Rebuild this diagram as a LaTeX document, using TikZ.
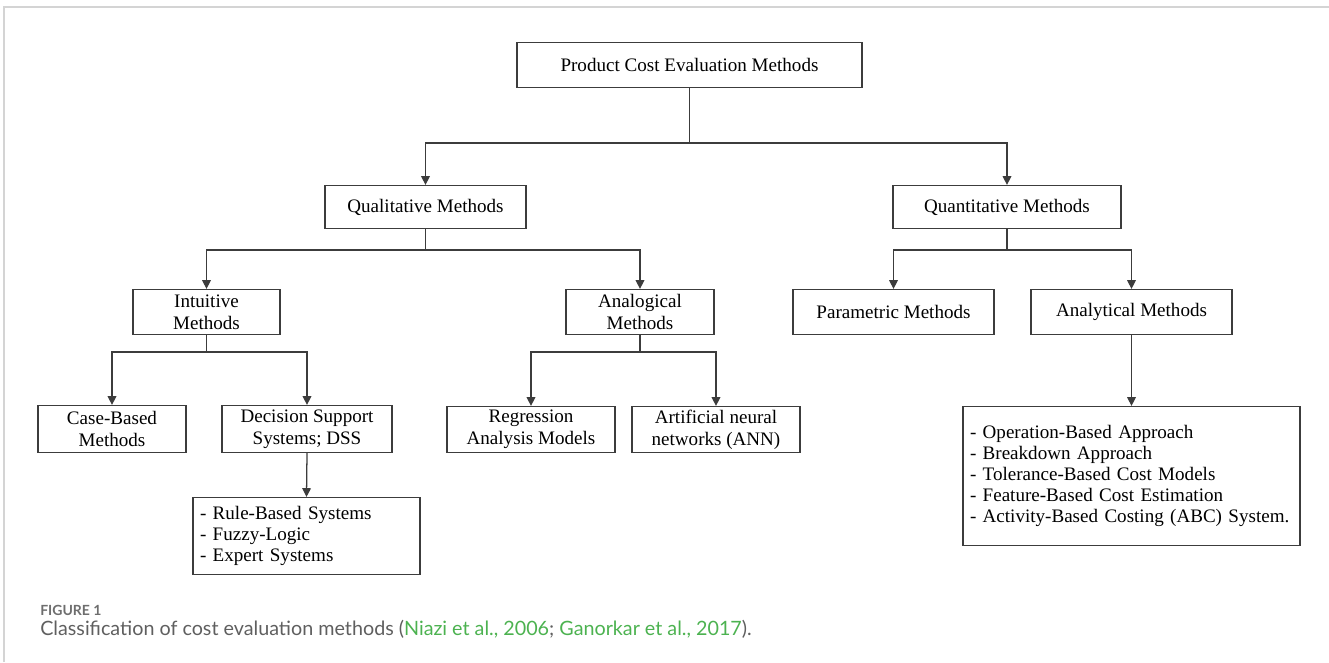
\documentclass[tikz,border=0pt]{standalone}
\usepackage{fontspec}
\setmainfont{Liberation Serif}
\newfontfamily\capfont{Lato}
\usetikzlibrary{arrows.meta}
\definecolor{capgray}{RGB}{95,95,95}
\definecolor{figgray}{RGB}{110,110,110}
\definecolor{linkgreen}{RGB}{76,178,80}
\definecolor{framegray}{RGB}{212,212,212}
\definecolor{boxline}{RGB}{60,60,60}
\newcommand{\pxl}[1]{#1*0.75pt}
\begin{document}
\begin{tikzpicture}[x=0.75pt,y=-0.75pt,
  box/.style={draw=boxline, line width=0.95pt, align=center, inner sep=0pt,
    font=\fontsize{14.3}{16.5}\selectfont},
  listbox/.style={draw=boxline, line width=0.95pt, align=left, inner xsep=\pxl{7}, inner ysep=0pt,
    font=\fontsize{14.3}{15.75}\selectfont},
  conn/.style={draw=boxline, line width=0.95pt},
  arr/.style={conn, -{Triangle[length=6.5pt,width=6.5pt]}},
  frame/.style={draw=framegray, line width=1.2pt}
]
\useasboundingbox (0,0) rectangle (1329,662);
% page frame
\coordinate (ftl) at (4,7);
\coordinate (ftr) at (1329,7);
\coordinate (fbl) at (4,662);
\draw[frame] (fbl) -- (ftl) -- (ftr);

% nodes
\node[box, minimum width=\pxl{345}, minimum height=\pxl{45}] (prod) at (689.5,65) {Product Cost Evaluation Methods};
\node[box, minimum width=\pxl{201}, minimum height=\pxl{43}] (qual) at (425.5,207) {Qualitative Methods};
\node[box, minimum width=\pxl{228}, minimum height=\pxl{43}] (quant) at (1007,207) {Quantitative Methods};
\node[box, minimum width=\pxl{147}, minimum height=\pxl{45}] (intu) at (206.5,312) {Intuitive\\Methods};
\node[box, minimum width=\pxl{148}, minimum height=\pxl{45}] (analog) at (640,312) {Analogical\\Methods};
\node[box, minimum width=\pxl{201}, minimum height=\pxl{45}] (param) at (893.5,312) {Parametric Methods};
\node[box, minimum width=\pxl{201}, minimum height=\pxl{45}] (analyt) at (1131.5,312) {Analytical Methods};
\node[box, minimum width=\pxl{148}, minimum height=\pxl{47}] (case) at (112,429) {Case-Based\\Methods};
\node[box, minimum width=\pxl{170}, minimum height=\pxl{47}] (dss) at (307,429) {Decision Support\\Systems; DSS};
\node[box, minimum width=\pxl{168}, minimum height=\pxl{46}] (regr) at (531,429.5) {Regression\\Analysis Models};
\node[box, minimum width=\pxl{168}, minimum height=\pxl{46}] (ann) at (716,429.5) {Artificial neural\\networks (ANN)};
\node[listbox, text width=\pxl{213}, minimum height=\pxl{77}] (rules) at (306.5,536)
  {- Rule-Based Systems\\- Fuzzy-Logic\\- Expert Systems};
\node[listbox, text width=\pxl{323}, minimum height=\pxl{139}] (costlist) at (1131.5,476)
  {- Operation-Based Approach\\- Breakdown Approach\\- Tolerance-Based Cost Models\\- Feature-Based Cost Estimation\\- Activity-Based Costing (ABC) System.};

% junctions
\coordinate (j1) at (689.5,143);
\coordinate (j2) at (425.5,250);
\coordinate (j3) at (1007,250);
\coordinate (j4) at (206.5,352);
\coordinate (j5) at (640,352);

% connectors
\draw[conn] (prod.south) -- (j1);
\draw[arr] (j1) -| (qual.north);
\draw[arr] (j1) -| (quant.north);
\draw[conn] (qual.south) -- (j2);
\draw[arr] (j2) -| (intu.north);
\draw[arr] (j2) -| (analog.north);
\draw[conn] (quant.south) -- (j3);
\draw[arr] (j3) -| (param.north);
\draw[arr] (j3) -| (analyt.north);
\draw[conn] (intu.south) -- (j4);
\draw[arr] (j4) -| (case.north);
\draw[arr] (j4) -| (dss.north);
\draw[conn] (analog.south) -- (j5);
\draw[arr] (j5) -| (regr.north);
\draw[arr] (j5) -| (ann.north);
\draw[arr] (dss.south) -- (rules.north);
\draw[arr] (analyt.south) -- (costlist.north);

% caption
\node[anchor=base west, inner sep=0pt, text=figgray, font=\capfont\bfseries\fontsize{10.5}{12}\selectfont] (fig) at (40,615) {FIGURE 1};
\node[anchor=base west, inner sep=0pt, text=capgray, font=\capfont\fontsize{14.8}{17}\selectfont] (cap) at (40,635)
  {Classification of cost evaluation methods (\textcolor{linkgreen}{Niazi et al., 2006}; \textcolor{linkgreen}{Ganorkar et al., 2017}).};
\end{tikzpicture}
\end{document}
